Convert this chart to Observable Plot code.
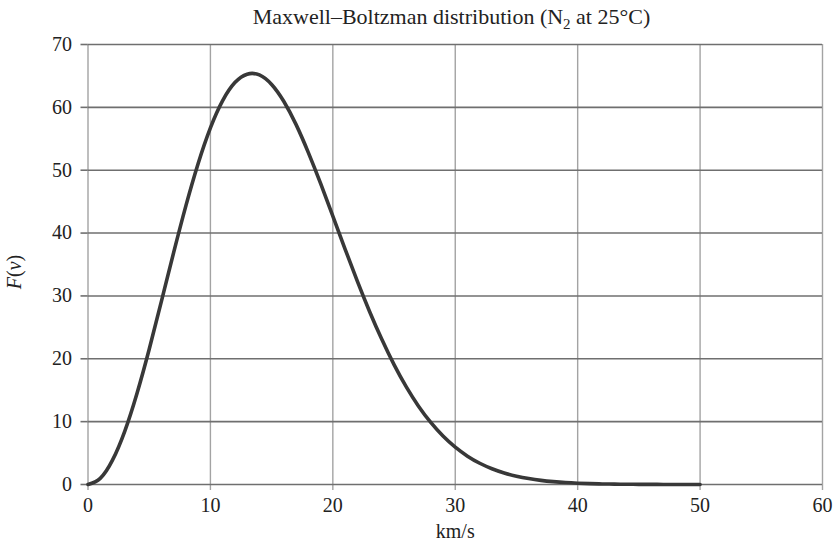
<!DOCTYPE html>
<html>
<head>
<meta charset="utf-8">
<script src="https://cdn.jsdelivr.net/npm/d3@7"></script>
<script src="https://cdn.jsdelivr.net/npm/@observablehq/plot@0.6"></script>
<style>
  html, body { margin: 0; padding: 0; background: #fff; }
  #title { width: 839px; height: 34px; line-height: 34px; text-align: center;
           font-family: "Liberation Serif", serif; font-size: 22px; color: #222; padding-left: 64px; box-sizing: border-box; white-space: nowrap; }
  #title sub { font-size: 15px; line-height: 0; }
</style>
</head>
<body>
<div id="title">Maxwell–Boltzman distribution (N<sub>2</sub> at 25°C)</div>
<div id="chart"></div>
<script>
const xTicks = [0, 10, 20, 30, 40, 50, 60];
const yTicks = [0, 10, 20, 30, 40, 50, 60, 70];
const xLabel = "km/s";

// speed (km/s) and F(v)
const speed = [0, 1, 2, 3, 4, 5, 6, 7, 8, 9, 10, 11, 12, 13, 14, 15, 16, 17, 18, 19, 20,
  21, 22, 23, 24, 25, 26, 27, 28, 29, 30, 31, 32, 33, 34, 35, 36, 37, 38, 39, 40,
  41, 42, 43, 44, 45, 46, 47, 48, 49, 50];
const density = [0, 0.98, 3.87, 8.47, 14.49, 21.53, 29.17, 36.93, 44.37, 51.08, 56.74,
  61.07, 63.94, 65.28, 65.16, 63.64, 60.93, 57.25, 52.80, 47.89, 42.69,
  37.46, 32.35, 27.53, 23.09, 19.07, 15.52, 12.46, 9.87, 7.70, 5.93,
  4.51, 3.38, 2.51, 1.83, 1.32, 0.94, 0.66, 0.46, 0.31, 0.21,
  0.14, 0.09, 0.06, 0.04, 0.025, 0.015, 0.01, 0.005, 0.002, 0];

const data = speed.map((v, i) => ({v, f: density[i]}));

const vColor = "#a3a3a3";
const hColor = "#6f6f6f";

const chart = Plot.plot({
  width: 839,
  height: 509,
  marginTop: 10,
  marginLeft: 87.5,
  marginRight: 17,
  marginBottom: 59,
  style: {fontFamily: "'Liberation Serif', serif", fontSize: "20px", color: "#222", background: "#fff"},
  x: {domain: [0, 60], label: null},
  y: {domain: [0, 70], label: null},
  marks: [
    Plot.ruleX(xTicks, {stroke: vColor, strokeWidth: 1.4}),
    Plot.axisX({ticks: xTicks, tickSize: 6, tickPadding: 7, stroke: vColor, strokeWidth: 1.4, label: null, fontSize: 20}),
    Plot.ruleY(yTicks, {stroke: hColor, strokeWidth: 1.6}),
    Plot.axisY({ticks: yTicks, tickSize: 7, tickPadding: 9, stroke: hColor, strokeWidth: 1.6, label: null, fontSize: 20}),
    Plot.line(data, {x: "v", y: "f", stroke: "#383838", strokeWidth: 3.6, curve: "natural"}),
    Plot.text([xLabel], {frameAnchor: "bottom", lineAnchor: "middle", dy: 47, text: d => d, fill: "#222", fontSize: 20})
  ]
});

// y-axis label with mixed italic styling
const svg = d3.select(chart);
const yl = svg.append("text")
  .attr("transform", "translate(16,238) rotate(-90)")
  .attr("text-anchor", "middle")
  .attr("dominant-baseline", "middle")
  .attr("fill", "#222")
  .style("font-family", "'Liberation Serif', serif")
  .style("font-size", "20px");
yl.append("tspan").attr("font-style", "italic").text("F");
yl.append("tspan").text("(");
yl.append("tspan").attr("font-style", "italic").text("ν");
yl.append("tspan").text(")");

document.getElementById("chart").appendChild(chart);
</script>
</body>
</html>
